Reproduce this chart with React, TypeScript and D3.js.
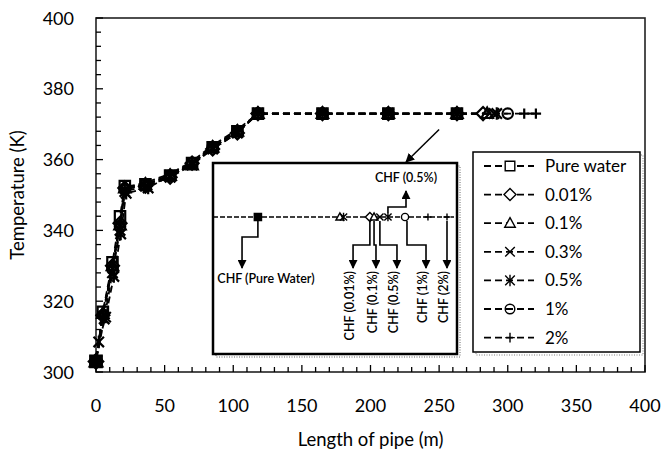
import React from "react";
import * as d3 from "d3";

// ---------- data ----------
const seriesNames = ["Pure water", "0.01%", "0.1%", "0.3%", "0.5%", "1%", "2%"];
const seriesShapes = ["square", "diamond", "triangle", "cross", "asterisk", "circle", "plus"];

const lengthPure = [0, 5, 12, 17.5, 21, 36, 54, 70, 85, 103, 118, 165, 213, 263];
const tempPure = [303, 317, 331, 344, 352.5, 353, 355.5, 359, 363.5, 368, 373, 373, 373, 373];

const length001 = [0, 5, 12, 17.5, 21, 36, 54, 70, 85, 103, 118, 165, 213, 263, 282];
const temp001 = [303, 316, 330, 342, 352, 352.5, 355, 359, 363, 367.5, 373, 373, 373, 373, 373];

const length01 = [0, 5, 12, 17.5, 21, 36, 54, 70, 85, 103, 118, 165, 213, 263, 285];
const temp01 = [303, 316.5, 330, 341.5, 352, 353, 355.5, 358.5, 363.5, 368, 373, 373, 373, 373, 373];

const length03 = [0, 6, 12, 17.5, 21, 36, 54, 70, 85, 103, 118, 165, 213, 263, 290];
const temp03 = [303, 315, 328, 340, 351, 352.5, 355, 358.5, 363, 367.5, 373, 373, 373, 373, 373];

const length05 = [0, 2, 7, 13, 18, 22, 38, 54, 70, 85, 103, 118, 165, 213, 263, 292];
const temp05 = [303, 308.5, 315.5, 327, 339, 350.5, 352, 355.5, 359, 363.5, 368, 373, 373, 373, 373, 373];

const length1 = [0, 5, 12, 17.5, 21, 36, 54, 70, 85, 103, 118, 165, 213, 263, 300];
const temp1 = [303, 316, 329, 341, 351.5, 353, 355.5, 359, 363.5, 368, 373, 373, 373, 373, 373];

const length2 = [0, 5, 12, 17.5, 21, 36, 54, 70, 85, 103, 118, 165, 213, 263, 312, 320.5];
const temp2 = [303, 316.5, 330, 342, 352, 353.5, 356, 359.5, 364, 368.5, 373, 373, 373, 373, 373, 373];

const seriesLengths = [lengthPure, length001, length01, length03, length05, length1, length2];
const seriesTemps = [tempPure, temp001, temp01, temp03, temp05, temp1, temp2];

const xTicks = [0, 50, 100, 150, 200, 250, 300, 350, 400];
const yTicks = [300, 320, 340, 360, 380, 400];

// inset (schematic, 0-100 across inset width)
const insetMarkerPos = [18.4, 52, 53.5, 64.3, 66, 68.4, 71.7, 78.7, 88.1, 95.9];
const insetMarkerShape = ["square", "triangle", "asterisk", "diamond", "triangle", "cross", "asterisk", "circle", "plus", "plus"];
const insetLabels = ["CHF (0.01%)", "CHF (0.1%)", "CHF (0.5%)", "CHF (1%)", "CHF (2%)"];
const insetFrom = [64.3, 66, 68.4, 79.5, 95.9];
const insetTo = [57.4, 66.8, 75.4, 87.3, 95.9];

// ---------- layout ----------
const W = 664, H = 460;
const left = 96, right = 645, top = 18, bottom = 372;
const FONT = "Lato, 'Open Sans', sans-serif";

const x = d3.scaleLinear().domain([0, 400]).range([left, right]);
const y = d3.scaleLinear().domain([300, 400]).range([bottom, top]);

const insetBox = { x0: 213, x1: 457, y0: 163, y1: 354 };
const ix = d3.scaleLinear().domain([0, 100]).range([insetBox.x0, insetBox.x1]);
const insetLineY = 217;

function shapePath(shape: string, r: number): string {
  switch (shape) {
    case "square":
      return `M${-r},${-r}H${r}V${r}H${-r}Z`;
    case "diamond": {
      const q = r * 1.25;
      return `M0,${-q}L${q},0L0,${q}L${-q},0Z`;
    }
    case "triangle":
      return `M0,${-r * 1.15}L${r * 1.1},${r * 0.85}L${-r * 1.1},${r * 0.85}Z`;
    case "cross":
      return `M${-r},${-r}L${r},${r}M${r},${-r}L${-r},${r}`;
    case "asterisk":
      return `M${-r},${-r}L${r},${r}M${r},${-r}L${-r},${r}M0,${-r * 1.2}L0,${r * 1.2}`;
    case "circle":
      return `M${r},0A${r},${r},0,1,1,${-r},0A${r},${r},0,1,1,${r},0Z`;
    case "plus":
      return `M${-r},0H${r}M0,${-r}V${r}`;
    default:
      return "";
  }
}

export default function App() {
  const minorX = d3.range(0, 401, 10);
  const minorY = d3.range(300, 401, 4);

  const arrowHead = "url(#arrowHead)";

  return (
    <svg width={W} height={H} style={{ position: "absolute", left: 0, top: 0, background: "#fff" }} fontFamily={FONT}>
      <defs>
        <marker id="arrowHead" viewBox="0 0 10 10" refX="9" refY="5" markerWidth="9" markerHeight="9" markerUnits="userSpaceOnUse" orient="auto">
          <path d="M0,0L10,5L0,10Z" fill="#000" />
        </marker>
      </defs>

      {/* frame */}
      <rect x={left} y={top} width={right - left} height={bottom - top} fill="none" stroke="#222" strokeWidth={1.6} />

      {/* ticks */}
      {minorX.map((v) => (
        <line key={"xt" + v} x1={x(v)} x2={x(v)} y1={bottom} y2={bottom - (v % 50 === 0 ? 7 : 5)} stroke="#000" strokeWidth={1.3} />
      ))}
      {minorY.map((v) => (
        <line key={"yt" + v} x1={left} x2={left + (v % 20 === 0 ? 7 : 5)} y1={y(v)} y2={y(v)} stroke="#000" strokeWidth={1.3} />
      ))}

      {/* tick labels */}
      {xTicks.map((v) => (
        <text key={"xl" + v} x={x(v)} y={412} textAnchor="middle" fontSize={18} fill="#000">{v}</text>
      ))}
      {yTicks.map((v) => (
        <text key={"yl" + v} x={74} y={y(v) + 6.5} textAnchor="end" fontSize={18} fill="#000">{v}</text>
      ))}

      {/* axis titles */}
      <text x={(left + right) / 2} y={446} textAnchor="middle" fontSize={18.5} fill="#000">Length of pipe (m)</text>
      <text transform={`translate(24,${(top + bottom) / 2}) rotate(-90)`} textAnchor="middle" fontSize={18.5} fill="#000">Temperature (K)</text>

      {/* inset */}
      <rect x={insetBox.x0 + 3} y={insetBox.y0 + 3} width={insetBox.x1 - insetBox.x0} height={insetBox.y1 - insetBox.y0} fill="none" stroke="#999" strokeWidth={1.5} strokeDasharray="1,1.5" />
      <rect x={insetBox.x0} y={insetBox.y0} width={insetBox.x1 - insetBox.x0} height={insetBox.y1 - insetBox.y0} fill="#fff" stroke="#000" strokeWidth={2.5} />
      <line x1={insetBox.x0} x2={insetBox.x1 - 3} y1={insetLineY} y2={insetLineY} stroke="#000" strokeWidth={1.3} strokeDasharray="5,2" />
      {insetMarkerPos.map((p, i) => (
        <path key={"im" + i} transform={`translate(${ix(p)},${insetLineY})`} d={shapePath(insetMarkerShape[i], 3.6)} fill={insetMarkerShape[i] === "square" ? "#000" : "#fff"} stroke="#000" strokeWidth={1.4} />
      ))}
      {/* pure water arrow */}
      <polyline points={`${ix(insetMarkerPos[0])},${insetLineY + 4} ${ix(insetMarkerPos[0])},237 ${ix(11.9)},237 ${ix(11.9)},268`} fill="none" stroke="#000" strokeWidth={1.6} markerEnd={arrowHead} />
      <text x={ix(21.7)} y={283} textAnchor="middle" fontSize={12.5} fontWeight={600} fill="#000">CHF (Pure Water)</text>
      {/* lower arrows */}
      {insetFrom.map((f, i) => (
        <polyline key={"ia" + i}
          points={`${ix(f)},${insetLineY + 4} ${ix(f)},245 ${ix(insetTo[i])},245 ${ix(insetTo[i])},268`}
          fill="none" stroke="#000" strokeWidth={1.6} markerEnd={arrowHead} />
      ))}
      {insetLabels.map((t, i) => (
        <text key={"il" + i} transform={`translate(${ix(insetTo[i]) - 3},271) rotate(-90)`} dy="0.35em" textAnchor="end" fontSize={12.5} fontWeight={600} fill="#000">{t}</text>
      ))}
      {/* upper 0.5% arrow */}
      <polyline points={`${ix(71.7)},${insetLineY - 4} ${ix(71.7)},207 ${ix(79.1)},207 ${ix(79.1)},191`} fill="none" stroke="#000" strokeWidth={1.6} markerEnd={arrowHead} />
      <text x={ix(79.1)} y={182} textAnchor="middle" fontSize={12.5} fontWeight={600} fill="#000">CHF (0.5%)</text>

      {/* arrow from main curve to inset */}
      <line x1={x(250)} y1={y(368.5)} x2={ix(79.1)} y2={insetBox.y0 - 1} stroke="#000" strokeWidth={1.5} markerEnd={arrowHead} />

      {/* series lines, drawn segment by segment so the dash pattern restarts at each point */}
      {seriesNames.map((n, si) => {
        const pts = seriesLengths[si].map((l, k) => [l, seriesTemps[si][k]] as [number, number]);
        return (
          <g key={"ln" + si}>
            {d3.pairs(pts).map(([a, b], k) => (
              <line key={k} x1={x(a[0])} y1={y(a[1])} x2={x(b[0])} y2={y(b[1])} stroke="#000" strokeWidth={1.8} strokeDasharray="7,4" strokeDashoffset={-3} />
            ))}
          </g>
        );
      })}
      {/* series markers */}
      {seriesNames.map((n, si) => (
        <g key={"mk" + si}>
          {seriesLengths[si].map((l, k) => (
            <path key={k} transform={`translate(${x(l)},${y(seriesTemps[si][k])})`}
              d={shapePath(seriesShapes[si], k === 0 ? 5.8 : 5.2)}
              fill={k === 0 ? "#000" : "none"} stroke="#000" strokeWidth={2.2} />
          ))}
        </g>
      ))}

      {/* legend */}
      <rect x={476} y={155} width={167} height={200} fill="none" stroke="#aaa" strokeWidth={1.5} strokeDasharray="1,1.5" />
      <rect x={473} y={152} width={167} height={200} fill="#fff" stroke="#000" strokeWidth={1.5} />
      {seriesNames.map((n, i) => {
        const ly = 166 + i * 28.6;
        return (
          <g key={"lg" + i}>
            <line x1={484} x2={534} y1={ly} y2={ly} stroke="#000" strokeWidth={1.8} strokeDasharray="7,4" />
            <path transform={`translate(510,${ly})`} d={shapePath(seriesShapes[i], 4.8)} fill={seriesShapes[i] === "circle" ? "none" : "#fff"} stroke="#000" strokeWidth={1.4} />
            <text x={545} y={ly + 6} fontSize={17} fill="#000">{n}</text>
          </g>
        );
      })}
    </svg>
  );
}
